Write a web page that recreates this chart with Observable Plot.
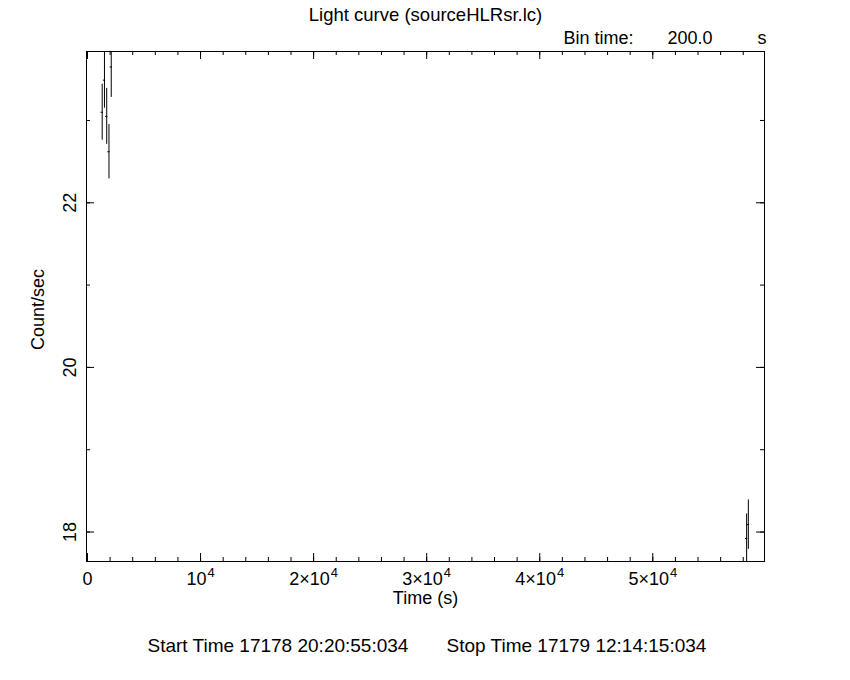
<!DOCTYPE html>
<html><head><meta charset="utf-8">
<script src="https://cdn.jsdelivr.net/npm/d3@7"></script>
<script src="https://cdn.jsdelivr.net/npm/@observablehq/plot@0.6"></script>
<style>html,body{margin:0;padding:0;background:#fff} svg{display:block}</style>
</head><body><div id="chart"></div>
<script>
// ---- text ----
const title = "Light curve (sourceHLRsr.lc)";
const binTimeLabel = "Bin time:";
const binTimeValue = "200.0";
const binTimeUnit = "s";
const xLabel = "Time (s)";
const yLabel = "Count/sec";
const startLabel = "Start Time 17178 20:20:55:034";
const stopLabel = "Stop Time 17179 12:14:15:034";

// ---- data (time in s, rate in count/sec, 1-sigma error) ----
const binTime = 200;
const times  = [1300, 1500, 1700, 1900, 2100, 58300, 58450];
const rates  = [23.10, 23.49, 23.05, 22.62, 23.65, 17.92, 18.09];
const errors = [0.34, 0.34, 0.34, 0.33, 0.37, 0.30, 0.30];

// ---- axes ----
const xDomain = [-88, 59880];
const yDomain = [17.642, 23.838];
const xMajorTicks = [0, 10000, 20000, 30000, 40000, 50000];
const xTickBase = ["0", "10", "2\u00d710", "3\u00d710", "4\u00d710", "5\u00d710"];
const xTickExp  = ["", "4", "4", "4", "4", "4"];
const xMinorTicks = [0, 2000, 4000, 6000, 8000, 10000, 12000, 14000, 16000, 18000, 20000, 22000, 24000, 26000, 28000,
  30000, 32000, 34000, 36000, 38000, 40000, 42000, 44000, 46000, 48000, 50000, 52000, 54000, 56000, 58000];
const yMajorTicks = [18, 20, 22];
const yTickLabels = ["18", "20", "22"];
const yMinorTicks = [18, 19, 20, 21, 22, 23];

const points = times.map((t, i) => ({t, r: rates[i], e: errors[i]}));

const W = 850, H = 680, mL = 86, mR = 86, mT = 51, mB = 119;
const fW = W - mL - mR, fH = H - mT - mB;
const majLen = 8, minLen = 4;
const FONT = "'Liberation Sans', Arial, sans-serif";
const baseSize = 18, expSize = 13;

// measure label widths so base + exponent can be centred on each tick
const ctx = document.createElement("canvas").getContext("2d");
function tw(s, size) { ctx.font = `${size}px ${FONT}`; return ctx.measureText(s).width; }

const xLabelMarks = [];
xMajorTicks.forEach((t, i) => {
  const bw = tw(xTickBase[i], baseSize), ew = xTickExp[i] ? tw(xTickExp[i], expSize) + 1 : 0;
  const start = -(bw + ew) / 2;
  xLabelMarks.push(Plot.text([t], {x: d => d, text: () => xTickBase[i], frameAnchor: "bottom", lineAnchor: "middle",
    textAnchor: "start", dx: start, dy: 18, fill: "black"}));
  if (xTickExp[i]) xLabelMarks.push(Plot.text([t], {x: d => d, text: () => xTickExp[i], frameAnchor: "bottom", lineAnchor: "middle",
    textAnchor: "start", dx: start + bw + 1, dy: 11, fontSize: expSize, fill: "black"}));
});

const chart = Plot.plot({
  width: W, height: H,
  marginLeft: mL, marginRight: mR, marginTop: mT, marginBottom: mB,
  x: {domain: xDomain, axis: null},
  y: {domain: yDomain, axis: null},
  style: {fontFamily: FONT, fontSize: baseSize + "px", color: "black", background: "white"},
  marks: [
    Plot.frame({stroke: "black"}),
    // x ticks bottom & top
    Plot.tickX(xMajorTicks, {x: d => d, insetTop: fH - majLen, stroke: "black"}),
    Plot.tickX(xMajorTicks, {x: d => d, insetBottom: fH - majLen, stroke: "black"}),
    Plot.tickX(xMinorTicks, {x: d => d, insetTop: fH - minLen, stroke: "black"}),
    Plot.tickX(xMinorTicks, {x: d => d, insetBottom: fH - minLen, stroke: "black"}),
    // y ticks left & right
    Plot.tickY(yMajorTicks, {y: d => d, insetRight: fW - majLen, stroke: "black"}),
    Plot.tickY(yMajorTicks, {y: d => d, insetLeft: fW - majLen, stroke: "black"}),
    Plot.tickY(yMinorTicks, {y: d => d, insetRight: fW - minLen, stroke: "black"}),
    Plot.tickY(yMinorTicks, {y: d => d, insetLeft: fW - minLen, stroke: "black"}),
    // data: error bars and bin-width bars
    Plot.ruleX(points, {x: "t", y1: d => d.r - d.e, y2: d => d.r + d.e, stroke: "black", clip: true}),
    Plot.ruleY(points, {y: "r", x1: d => d.t - binTime / 2, x2: d => d.t + binTime / 2, stroke: "black", clip: true}),
    // tick labels
    ...xLabelMarks,
    Plot.text(yMajorTicks, {y: d => d, text: (d, i) => yTickLabels[i], frameAnchor: "left", textAnchor: "middle",
      lineAnchor: "middle", dx: -16, rotate: -90, fill: "black"}),
    // axis labels
    Plot.text([xLabel], {frameAnchor: "bottom", textAnchor: "middle", lineAnchor: "middle", dy: 37, fill: "black"}),
    Plot.text([yLabel], {frameAnchor: "left", textAnchor: "middle", lineAnchor: "middle", dx: -48, dy: 3, rotate: -90, fill: "black"}),
    // title & bin time
    Plot.text([title], {frameAnchor: "top", textAnchor: "middle", lineAnchor: "middle", dy: -36, fontSize: 18.5, fill: "black"}),
    Plot.text([binTimeLabel], {frameAnchor: "top-right", textAnchor: "start", lineAnchor: "middle", dx: -201, dy: -13, fill: "black"}),
    Plot.text([binTimeValue], {frameAnchor: "top-right", textAnchor: "start", lineAnchor: "middle", dx: -97, dy: -13, fill: "black"}),
    Plot.text([binTimeUnit], {frameAnchor: "top-right", textAnchor: "start", lineAnchor: "middle", dx: -7, dy: -13, fill: "black"}),
    // start / stop
    Plot.text([startLabel], {frameAnchor: "bottom-left", textAnchor: "start", lineAnchor: "middle", dx: 61, dy: 84, fontSize: 19, fill: "black"}),
    Plot.text([stopLabel], {frameAnchor: "bottom-left", textAnchor: "start", lineAnchor: "middle", dx: 360, dy: 84, fontSize: 19, fill: "black"})
  ]
});
document.getElementById("chart").appendChild(chart);
</script>
</body></html>
